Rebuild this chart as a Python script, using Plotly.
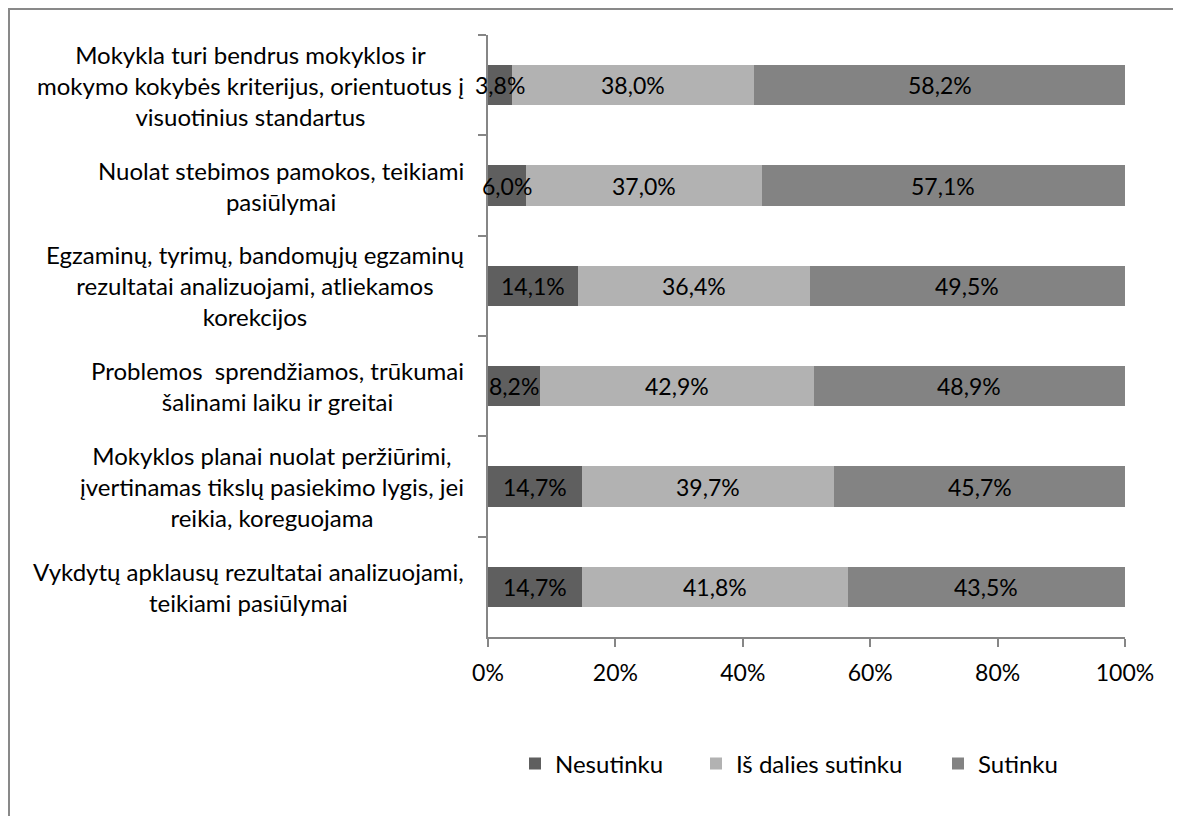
import plotly.graph_objects as go

categories = [
    "Mokykla turi bendrus mokyklos ir<br>mokymo kokybės kriterijus, orientuotus į<br>visuotinius standartus",
    "Nuolat stebimos pamokos, teikiami<br>pasiūlymai",
    "Egzaminų, tyrimų, bandomųjų egzaminų<br>rezultatai analizuojami, atliekamos<br>korekcijos",
    "Problemos  sprendžiamos, trūkumai<br>šalinami laiku ir greitai",
    "Mokyklos planai nuolat peržiūrimi,<br>įvertinamas tikslų pasiekimo lygis, jei<br>reikia, koreguojama",
    "Vykdytų apklausų rezultatai analizuojami,<br>teikiami pasiūlymai",
]
series_names = ["Nesutinku", "Iš dalies sutinku", "Sutinku"]
nesutinku = [3.8, 6.0, 14.1, 8.2, 14.7, 14.7]
is_dalies = [38.0, 37.0, 36.4, 42.9, 39.7, 41.8]
sutinku = [58.2, 57.1, 49.5, 48.9, 45.7, 43.5]
x_ticks = [0, 20, 40, 60, 80, 100]
x_tick_labels = ["0%", "20%", "40%", "60%", "80%", "100%"]

colors = ["#5f5f5f", "#b2b2b2", "#838383"]
FONT = "Lato"
FS_TXT = 24
FS_NUM = 23

# page offset (body margin) and figure size
OFF = 8
W, H = 1181 - OFF, 816 - OFF
# plot area in page pixels: x 488..1125, y 35..637
L = 488 - OFF
R = W - (1125 - OFF)
T = 35 - OFF
B = H - (637 - OFF)
pw, ph = W - L - R, H - T - B


def px_x(p):
    return (p - OFF - L) / pw


def px_y(p):
    return (H - B - (p - OFF)) / ph


ykeys = [f"c{i}" for i in range(len(categories))]
series = [nesutinku, is_dalies, sutinku]
legends = ["legend", "legend2", "legend3"]

fig = go.Figure()
for name, vals, col, lg in zip(series_names, series, colors, legends):
    fig.add_trace(go.Bar(
        y=ykeys, x=vals, name=name, orientation="h",
        marker=dict(color=col, line=dict(width=0)),
        legend=lg, hoverinfo="skip",
    ))

annotations = []
# data labels (normalized like a 100% stacked chart)
for i in range(len(categories)):
    vals = [s[i] for s in series]
    tot = sum(vals)
    cum = 0
    for v in vals:
        mid = (cum + v / 2) / tot * 100
        cum += v
        annotations.append(dict(
            x=mid, y=ykeys[i], xref="x", yref="y",
            text=f"{v:.1f}%".replace(".", ","), showarrow=False,
            font=dict(family=FONT, size=FS_NUM, color="#000000"),
            xanchor="center", yanchor="middle",
        ))
# category labels
for k, c in zip(ykeys, categories):
    annotations.append(dict(
        x=px_x(466), y=k, xref="paper", yref="y", text=c, showarrow=False,
        xanchor="right", yanchor="middle", align="center",
        font=dict(family=FONT, size=FS_TXT, color="#000000"),
    ))

legend_common = dict(
    orientation="h", yanchor="middle", xanchor="left",
    font=dict(family=FONT, size=FS_TXT, color="#000000"),
    bgcolor="rgba(0,0,0,0)", borderwidth=0,
)
sq_centers = [535, 716, 958]
leg_y = px_y(764)

fig.update_layout(
    width=W, height=H,
    margin=dict(l=L, r=R, t=T, b=B, pad=0),
    barmode="stack", barnorm="percent", bargap=0.6,
    plot_bgcolor="white", paper_bgcolor="white",
    font=dict(family=FONT, size=FS_TXT, color="#000000"),
    xaxis=dict(
        range=[0, 100], tickvals=x_ticks, ticktext=x_tick_labels,
        showgrid=False, zeroline=False, showline=True, linecolor="#868686", linewidth=1.5,
        ticks="outside", ticklen=8, tickcolor="#868686", tickwidth=1.5,
        tickfont=dict(family=FONT, size=FS_NUM, color="#000000"),
        ticklabelstandoff=7,
        fixedrange=True,
    ),
    yaxis=dict(
        autorange="reversed", type="category", showticklabels=False,
        showgrid=False, zeroline=False, showline=True, linecolor="#868686", linewidth=1.5,
        ticks="outside", ticklen=8, tickcolor="#868686", tickwidth=1.5,
        tickson="boundaries", fixedrange=True,
    ),
    legend=dict(x=px_x(sq_centers[0] - 20), y=leg_y, **legend_common),
    legend2=dict(x=px_x(sq_centers[1] - 20), y=leg_y, **legend_common),
    legend3=dict(x=px_x(sq_centers[2] - 20), y=leg_y, **legend_common),
    annotations=annotations,
    shapes=[dict(
        type="rect", xref="paper", yref="paper",
        x0=px_x(9), x1=px_x(1175), y0=px_y(830), y1=px_y(9),
        line=dict(color="#898989", width=2), fillcolor="rgba(0,0,0,0)", layer="below",
    )],
    showlegend=True,
)

fig.write_html("out.html")
